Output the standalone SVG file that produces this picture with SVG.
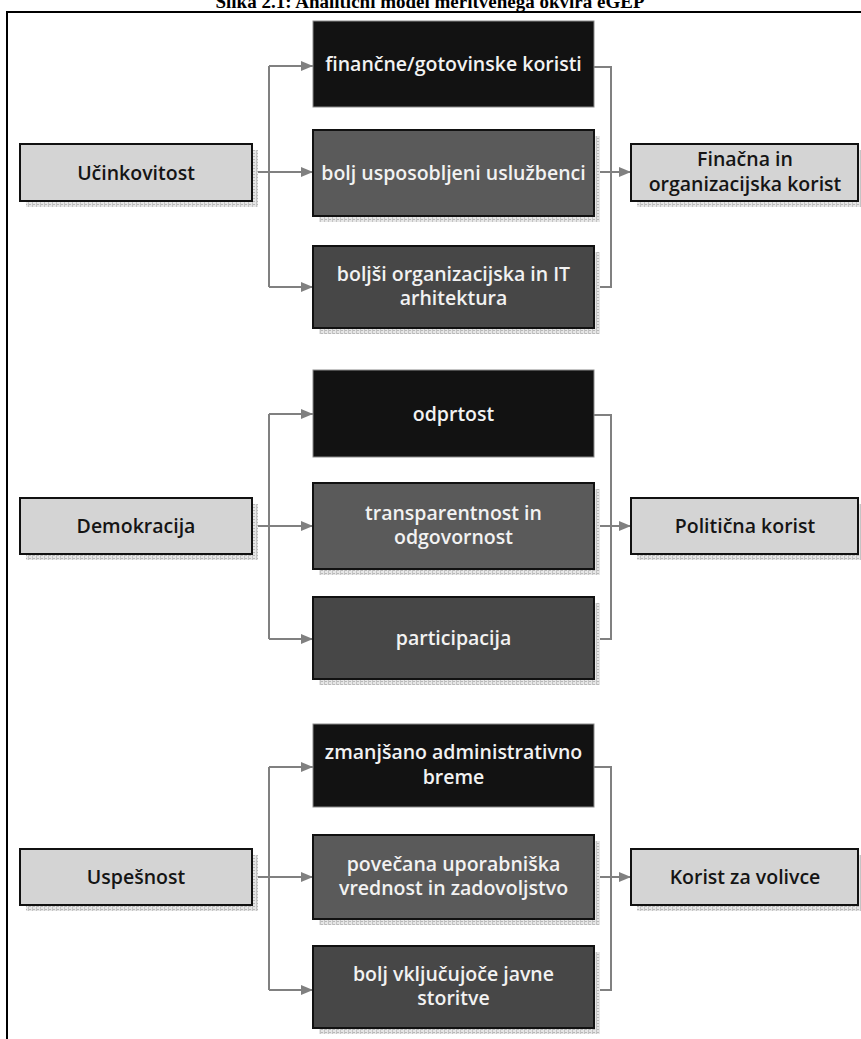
<svg xmlns="http://www.w3.org/2000/svg" width="861" height="1039" viewBox="0 0 861 1039">
<defs>
<pattern id="hatch" width="4" height="3" patternUnits="userSpaceOnUse">
<rect width="4" height="3" fill="#e6e6e6"/>
<rect x="0" y="0" width="3" height="1" fill="#b8b8b8"/>
<rect x="0" y="0" width="1" height="3" fill="#c4c4c4"/>
</pattern>
<marker id="arr" markerUnits="userSpaceOnUse" markerWidth="12" markerHeight="10" refX="12" refY="5" orient="auto">
<path d="M0,0 L12,5 L0,10 z" fill="#808080"/>
</marker>
</defs>
<style>
.frame{fill:none;stroke:#000;stroke-width:2}
.title{font-family:"Liberation Serif",serif;font-weight:bold;font-size:19px;fill:#000}
.sh{fill:url(#hatch)}
.lg{fill:#d4d4d4;stroke:#111;stroke-width:2}
.blk{fill:#121212;stroke:#8a8a8a;stroke-width:1}
.mid{fill:#5a5a5a;stroke:#111;stroke-width:2}
.dk{fill:#474747;stroke:#111;stroke-width:2}
.wt{font-family:"Open Sans","DejaVu Sans",sans-serif;font-weight:600;font-size:19.5px;fill:#f2f2f2;text-anchor:middle}
.bt{font-family:"Open Sans","DejaVu Sans",sans-serif;font-weight:600;font-size:19.5px;fill:#151515;text-anchor:middle}
.c{fill:none;stroke:#808080;stroke-width:2}
</style>
<rect width="861" height="1039" fill="#fff"/>
<text class="title" x="430" y="8" text-anchor="middle">Slika 2.1: Analitični model meritvenega okvira eGEP</text>
<path class="frame" d="M861,12 H7 V1039"/>

<g id="connectors">
<path class="c" d="M269,66 V287"/>
<path class="c" d="M269,66 H313" marker-end="url(#arr)"/>
<path class="c" d="M252,172 H313" marker-end="url(#arr)"/>
<path class="c" d="M269,287 H313" marker-end="url(#arr)"/>
<path class="c" d="M594,67 H611 V287 H594"/>
<path class="c" d="M594,172 H631" marker-end="url(#arr)"/>
<path class="c" d="M269,414 V639"/>
<path class="c" d="M269,414 H313" marker-end="url(#arr)"/>
<path class="c" d="M252,526 H313" marker-end="url(#arr)"/>
<path class="c" d="M269,639 H313" marker-end="url(#arr)"/>
<path class="c" d="M594,415 H611 V639 H594"/>
<path class="c" d="M594,526 H631" marker-end="url(#arr)"/>
<path class="c" d="M269,767 V990"/>
<path class="c" d="M269,767 H313" marker-end="url(#arr)"/>
<path class="c" d="M252,877 H313" marker-end="url(#arr)"/>
<path class="c" d="M269,990 H313" marker-end="url(#arr)"/>
<path class="c" d="M594,767 H611 V990 H594"/>
<path class="c" d="M594,877 H631" marker-end="url(#arr)"/>
</g>

<g id="ucinkovitost">
<rect class="sh" x="26" y="150" width="232" height="57"/>
<rect class="lg" x="20" y="144" width="232" height="57"/>
<text class="bt" x="136" y="179.5">Učinkovitost</text>
</g>
<g id="financne">
<rect class="blk" x="313" y="21" width="281" height="86"/>
<text class="wt" x="453.5" y="71">finančne/gotovinske koristi</text>
</g>
<g id="usposobljeni">
<rect class="sh" x="319" y="136" width="281" height="86"/>
<rect class="mid" x="313" y="130" width="281" height="86"/>
<text class="wt" x="453.5" y="180">bolj usposobljeni uslužbenci</text>
</g>
<g id="arhitektura">
<rect class="sh" x="319" y="252" width="281" height="82"/>
<rect class="dk" x="313" y="246" width="281" height="82"/>
<text class="wt" x="453.5" y="280.5">boljši organizacijska in IT</text>
<text class="wt" x="453.5" y="305">arhitektura</text>
</g>
<g id="financna-korist">
<rect class="sh" x="637" y="150" width="227" height="57"/>
<rect class="lg" x="631" y="144" width="227" height="57"/>
<text class="bt" x="745" y="166">Finačna in</text>
<text class="bt" x="745" y="190.5">organizacijska korist</text>
</g>

<g id="demokracija">
<rect class="sh" x="26" y="504" width="232" height="56"/>
<rect class="lg" x="20" y="498" width="232" height="56"/>
<text class="bt" x="136" y="533">Demokracija</text>
</g>
<g id="odprtost">
<rect class="blk" x="313" y="370" width="281" height="87"/>
<text class="wt" x="453.5" y="420.5">odprtost</text>
</g>
<g id="transparentnost">
<rect class="sh" x="319" y="489" width="281" height="86"/>
<rect class="mid" x="313" y="483" width="281" height="86"/>
<text class="wt" x="453.5" y="519.5">transparentnost in</text>
<text class="wt" x="453.5" y="544">odgovornost</text>
</g>
<g id="participacija">
<rect class="sh" x="319" y="603" width="281" height="82"/>
<rect class="dk" x="313" y="597" width="281" height="82"/>
<text class="wt" x="453.5" y="645">participacija</text>
</g>
<g id="politicna-korist">
<rect class="sh" x="637" y="504" width="227" height="56"/>
<rect class="lg" x="631" y="498" width="227" height="56"/>
<text class="bt" x="745" y="533">Politična korist</text>
</g>

<g id="uspesnost">
<rect class="sh" x="26" y="855" width="232" height="56"/>
<rect class="lg" x="20" y="849" width="232" height="56"/>
<text class="bt" x="136" y="884">Uspešnost</text>
</g>
<g id="breme">
<rect class="blk" x="313" y="724" width="281" height="83"/>
<text class="wt" x="453.5" y="759">zmanjšano administrativno</text>
<text class="wt" x="453.5" y="783.5">breme</text>
</g>
<g id="vrednost">
<rect class="sh" x="319" y="841" width="281" height="84"/>
<rect class="mid" x="313" y="835" width="281" height="84"/>
<text class="wt" x="453.5" y="870.5">povečana uporabniška</text>
<text class="wt" x="453.5" y="895">vrednost in zadovoljstvo</text>
</g>
<g id="storitve">
<rect class="sh" x="319" y="952" width="281" height="82"/>
<rect class="dk" x="313" y="946" width="281" height="82"/>
<text class="wt" x="453.5" y="980.5">bolj vključujoče javne</text>
<text class="wt" x="453.5" y="1005">storitve</text>
</g>
<g id="korist-volivce">
<rect class="sh" x="637" y="855" width="227" height="56"/>
<rect class="lg" x="631" y="849" width="227" height="56"/>
<text class="bt" x="745" y="884">Korist za volivce</text>
</g>
</svg>
